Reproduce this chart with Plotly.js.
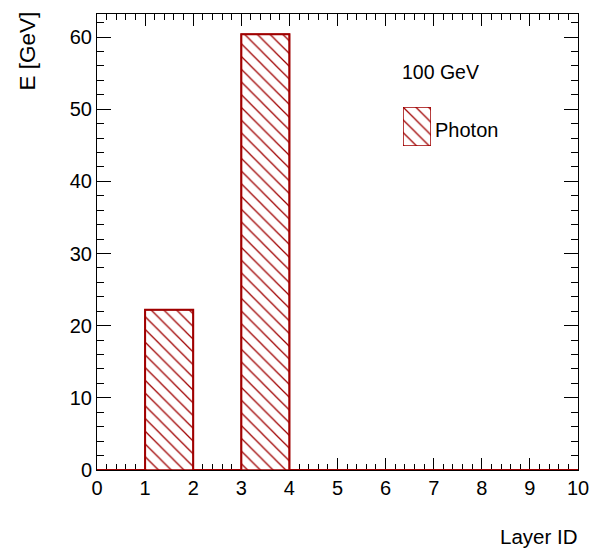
<!DOCTYPE html>
<html>
<head>
<meta charset="utf-8">
<script src="https://cdn.plot.ly/plotly-3.0.1.min.js"></script>
<style>html,body{margin:0;padding:0;background:#fff}#chart{width:591px;height:551px}</style>
</head>
<body>
<div id="chart"></div>
<script>
// Data
const binEdges = [0, 1, 2, 3, 4, 5, 6, 7, 8, 9, 10];
const layerCenters = [0.5, 1.5, 2.5, 3.5, 4.5, 5.5, 6.5, 7.5, 8.5, 9.5];
const energyGeV = [0, 22.2, 0, 60.4, 0, 0, 0, 0, 0, 0];
const seriesName = "Photon";
const beamLabel = "100 GeV";

const red = "rgb(160,0,0)";
const font = "Liberation Sans, Arial, Helvetica, sans-serif";
const hatch = {shape: "\\", fgcolor: red, fgopacity: 1, bgcolor: "white", size: 9, solidity: 0.14, fillmode: "replace"};

// step outline built from data (ROOT-style histogram outline including empty bins)
const stepY = energyGeV.concat([energyGeV[energyGeV.length - 1]]);

const traces = [
  {
    type: "bar",
    x: layerCenters,
    y: energyGeV,
    width: 1,
    name: seriesName,
    showlegend: false,
    marker: {color: "white", line: {color: red, width: 1.5}, pattern: hatch},
    hoverinfo: "x+y"
  },
  {
    type: "scatter",
    mode: "lines",
    x: binEdges,
    y: stepY,
    line: {shape: "hv", color: red, width: 2},
    showlegend: false,
    hoverinfo: "skip",
    cliponaxis: false
  },
  // legend key swatch
  {
    type: "bar",
    x: [0.5],
    y: [1],
    width: 1,
    xaxis: "x2",
    yaxis: "y2",
    showlegend: false,
    hoverinfo: "skip",
    marker: {color: "white", line: {color: red, width: 1.5}, pattern: hatch}
  }
];

const L = 97, R = 578, T = 14, B = 470, W = 591, H = 551;
const pw = R - L, ph = B - T;
function px(x) { return (x - L) / pw; }
function py(y) { return (B - y) / ph; }

const layout = {
  width: W, height: H,
  margin: {l: L, r: W - R, t: T, b: H - B, pad: 0},
  paper_bgcolor: "white",
  plot_bgcolor: "white",
  font: {family: font, size: 20, color: "black"},
  bargap: 0,
  xaxis: {
    range: [0, 10],
    tickmode: "linear", tick0: 0, dtick: 1,
    ticks: "inside", ticklen: 12, tickcolor: "black", tickwidth: 1,
    minor: {dtick: 0.2, ticks: "inside", ticklen: 6, tickcolor: "black", tickwidth: 1},
    showline: true, linecolor: "black", linewidth: 1, mirror: "ticks",
    showgrid: false, zeroline: false, layer: "below traces",
    tickfont: {size: 20, family: font},
    fixedrange: true
  },
  yaxis: {
    range: [0, 63.2],
    tickmode: "linear", tick0: 0, dtick: 10,
    ticks: "inside", ticklen: 14, tickcolor: "black", tickwidth: 1,
    minor: {dtick: 2, ticks: "inside", ticklen: 7, tickcolor: "black", tickwidth: 1},
    showline: true, linecolor: "black", linewidth: 1, mirror: "ticks",
    showgrid: false, zeroline: false, layer: "below traces",
    tickfont: {size: 20, family: font},
    fixedrange: true
  },
  xaxis2: {
    domain: [px(403), px(431)], range: [0, 1], anchor: "y2",
    visible: false, fixedrange: true
  },
  yaxis2: {
    domain: [py(146), py(107)], range: [0, 1], anchor: "x2",
    visible: false, fixedrange: true
  },
  annotations: [
    {text: "E [GeV]", xref: "paper", yref: "paper", x: px(27), y: py(10),
     xanchor: "center", yanchor: "top", textangle: -90, showarrow: false,
     font: {size: 22.5, family: font}},
    {text: "Layer ID", xref: "paper", yref: "paper", x: px(579), y: py(536),
     xanchor: "right", yanchor: "middle", showarrow: false,
     font: {size: 20.5, family: font}},
    {text: beamLabel, xref: "paper", yref: "paper", x: px(400), y: py(72),
     xanchor: "left", yanchor: "middle", showarrow: false,
     font: {size: 19.5, family: font}},
    {text: seriesName, xref: "paper", yref: "paper", x: px(433), y: py(130),
     xanchor: "left", yanchor: "middle", showarrow: false,
     font: {size: 20, family: font}}
  ]
};

Plotly.newPlot("chart", traces, layout, {displayModeBar: false, staticPlot: true});
</script>
</body>
</html>
